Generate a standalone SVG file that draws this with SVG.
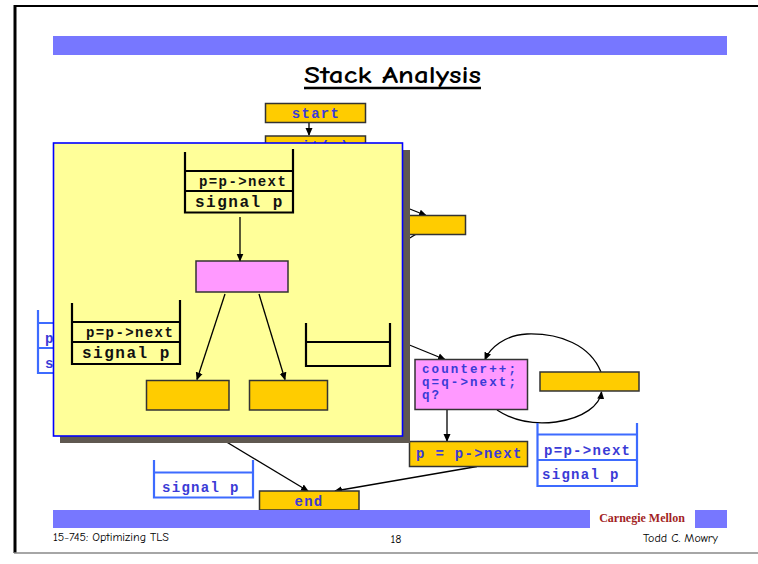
<svg xmlns="http://www.w3.org/2000/svg" width="758" height="564" viewBox="0 0 758 564">
<defs>
<marker id="ah" markerWidth="8" markerHeight="8" refX="7" refY="4" orient="auto" markerUnits="userSpaceOnUse">
<path d="M0,0.5 L8,4 L0,7.5 Z" fill="#000"/>
</marker>
<style>
.ob{fill:#ffcc00;stroke:#333;stroke-width:1.5}
.pk{fill:#ff99ff;stroke:#333;stroke-width:1.5}
.bt{font-family:"Liberation Mono","DejaVu Sans Mono",monospace;font-weight:bold;font-size:14px;letter-spacing:1.3px;fill:#3b3bd6}
.bc{font-size:12.5px;letter-spacing:2.1px}
.kt{font-family:"Liberation Mono","DejaVu Sans Mono",monospace;font-weight:bold;font-size:14px;letter-spacing:1.4px;fill:#111}
.kb{font-size:16px;letter-spacing:1.5px}
.ks{stroke:#000;stroke-width:2.2;fill:none}
.bs{stroke:#3d6bff;stroke-width:2.2;fill:none}
.cn{stroke:#000;stroke-width:1.3;fill:none}
.ft{font-family:"Comic Neue","Liberation Sans",sans-serif;font-size:12px;fill:#000}
</style>
</defs>
<rect x="0" y="0" width="758" height="564" fill="#fff"/>
<!-- slide frame -->
<line x1="15" y1="5" x2="15" y2="553" stroke="#000" stroke-width="3"/>
<line x1="14" y1="6" x2="758" y2="6" stroke="#000" stroke-width="2"/>
<line x1="14" y1="553" x2="758" y2="553" stroke="#888" stroke-width="1.5"/>
<rect x="53" y="36" width="674" height="19" fill="#7777ff"/>
<text x="304" y="83" textLength="177" lengthAdjust="spacingAndGlyphs" font-family="Comic Neue,'Liberation Sans',sans-serif" font-weight="bold" font-size="25" fill="#000">Stack Analysis</text>
<line x1="304" y1="88" x2="481" y2="88" stroke="#000" stroke-width="2.5"/>

<!-- connectors -->
<g id="connectors">
<line class="cn" x1="309" y1="122" x2="309" y2="135" marker-end="url(#ah)"/>
<line class="cn" x1="380" y1="197" x2="426" y2="215.5" marker-end="url(#ah)"/>
<line class="cn" x1="418" y1="233" x2="380" y2="256"/>
<line class="cn" x1="380" y1="333" x2="445" y2="359.5" marker-end="url(#ah)"/>
<path class="cn" d="M601,372 C590,345 560,333 527,334 C505,335 490,348 485,359.5" marker-end="url(#ah)"/>
<path class="cn" d="M497,410 C512,420 532,425 556,422 C584,418 600,405 601.5,392" marker-end="url(#ah)"/>
<line class="cn" x1="447" y1="409.5" x2="447" y2="441" marker-end="url(#ah)"/>
<line class="cn" x1="477" y1="466.5" x2="335" y2="491" marker-end="url(#ah)"/>
<line class="cn" x1="205" y1="429" x2="308" y2="491" marker-end="url(#ah)"/>
</g>

<g id="start"><rect class="ob" x="265.5" y="103.5" width="100" height="19"/><text class="bt" x="316" y="118" text-anchor="middle">start</text></g>
<g id="wait"><rect class="ob" x="265.5" y="136" width="100" height="19"/><text class="bt" x="316" y="151" text-anchor="middle">wait(q)</text></g>
<g id="rbox1"><rect class="ob" x="403" y="215.5" width="62.5" height="19"/></g>
<g id="counter"><rect class="pk" x="415" y="359.5" width="112.5" height="50"/>
<text class="bt bc" x="422" y="373">counter++;</text>
<text class="bt bc" x="422" y="386">q=q-&gt;next;</text>
<text class="bt bc" x="422" y="399">q?</text></g>
<g id="loopbox"><rect class="ob" x="540" y="372" width="99" height="19"/></g>
<g id="pnext"><rect class="ob" x="409.5" y="441.5" width="118" height="25"/><text class="bt" x="416" y="458">p = p-&gt;next</text></g>
<g id="end"><rect class="ob" x="259.5" y="491" width="99.5" height="19"/><text class="bt" x="309" y="506" text-anchor="middle">end</text></g>

<g id="stack-left-blue">
<path class="bs" d="M38,310 V373 H60 M38,323 H60 M38,348 H60"/>
<text class="bt" x="45" y="343">p</text>
<text class="bt" x="45" y="368">s</text>
</g>
<g id="stack-bottom-blue">
<path class="bs" d="M154,460 V497.5 H253 V460 M154,472.5 H253"/>
<text class="bt" x="162" y="492">signal p</text>
</g>
<g id="stack-right-blue">
<path class="bs" d="M537.5,423 V486 H637 V423 M537.5,434.5 H637 M537.5,460 H637"/>
<text class="bt" x="544" y="455">p=p-&gt;next</text>
<text class="bt" x="542" y="479">signal p</text>
</g>

<!-- overlay callout -->
<g id="overlay">
<rect x="60" y="150" width="350" height="293" fill="#5f5850"/>
<rect x="53.5" y="143" width="349" height="293" fill="#ffff99" stroke="#0000ff" stroke-width="1.6"/>
<g id="ov-stack-top">
<path class="ks" d="M185,152 V212.5 H293 V149 M185,171 H293 M185,191 H293"/>
<text class="kt" x="199" y="186">p=p-&gt;next</text>
<text class="kt kb" x="195" y="207">signal p</text>
</g>
<g id="ov-pink"><rect class="pk" x="196" y="261" width="92" height="31"/></g>
<g id="ov-connectors">
<line class="cn" x1="240" y1="217" x2="240" y2="260.5" marker-end="url(#ah)"/>
<line class="cn" x1="225" y1="294" x2="197" y2="379.5" marker-end="url(#ah)"/>
<line class="cn" x1="259" y1="294" x2="285" y2="379.5" marker-end="url(#ah)"/>
</g>
<g id="ov-box-l"><rect class="ob" x="146.5" y="380.5" width="82.5" height="29.5"/></g>
<g id="ov-box-r"><rect class="ob" x="249.5" y="380.5" width="78" height="29.5"/></g>
<g id="ov-stack-left">
<path class="ks" d="M72,303 V364 H180 V300 M72,322 H180 M72,342 H180"/>
<text class="kt" x="86" y="337">p=p-&gt;next</text>
<text class="kt kb" x="82" y="358">signal p</text>
</g>
<g id="ov-stack-right">
<path class="ks" d="M306,323 V366 H390 V323 M306,342 H390"/>
</g>
</g>

<!-- footer -->
<rect x="53" y="510" width="537" height="18" fill="#7777ff"/>
<rect x="695" y="510" width="32" height="18" fill="#7777ff"/>
<text x="642" y="522" text-anchor="middle" font-family="'Liberation Serif',serif" font-weight="bold" font-size="12" fill="#a31f1f">Carnegie Mellon</text>
<text class="ft" x="53" y="541">15-745: Optimizing TLS</text>
<text class="ft" x="396" y="543" text-anchor="middle">18</text>
<text class="ft" x="718" y="542" text-anchor="end">Todd C. Mowry</text>
</svg>
